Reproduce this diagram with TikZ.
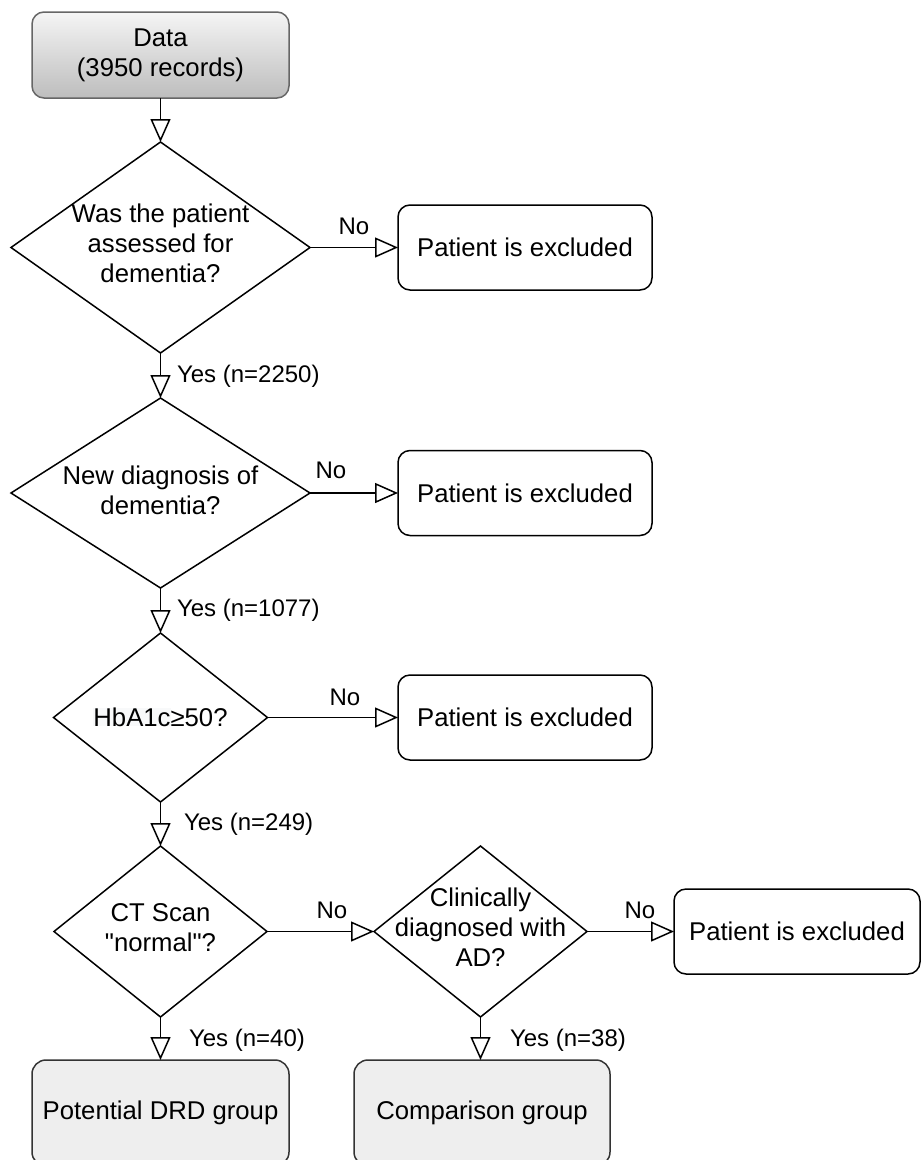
\documentclass[tikz,border=0pt]{standalone}
\usepackage{fontspec}
\setmainfont{Liberation Sans}
\newfontfamily\plainq{Liberation Sans}
\usetikzlibrary{shapes.geometric,arrows.meta}
\definecolor{gtop}{HTML}{F5F5F5}
\definecolor{gbot}{HTML}{BDBDBD}
\definecolor{gstroke}{HTML}{666666}
\definecolor{resfill}{HTML}{EEEEEE}
\definecolor{hlbg}{HTML}{F8F9FA}
\tikzset{
  every node/.style={font=\fontsize{25.7}{30}\selectfont, inner sep=0pt, outer sep=0pt},
  dia/.style={draw, line width=1.5pt, shape=diamond, inner sep=0pt},
  excl/.style={draw, line width=1.5pt, rounded corners=12pt, fill=white, minimum width=254pt, minimum height=85pt},
  result/.style={draw=black!80, line width=1.5pt, rounded corners=14pt, fill=resfill, minimum width=257pt, minimum height=106pt},
  startbox/.style={draw=gstroke, line width=1.5pt, rounded corners=12pt, top color=gtop, bottom color=gbot, minimum width=257pt, minimum height=86pt, align=center},
  dtext/.style={align=center},
  lbl/.style={anchor=center, font=\fontsize{24}{28}\selectfont},
  arr/.style={line width=1.5pt, -{Triangle[open, length=23pt, width=20pt, fill=white]}}
}
\begin{document}
\begin{tikzpicture}[x=1pt, y=-1pt]
\useasboundingbox (0,0) rectangle (921,1160);
\clip (0,0) rectangle (921,1160);
% start
\node[startbox] (data) at (160.5,55) {Data\\(3950 records)};
% diamonds
\node[dia, minimum width=299pt, minimum height=211pt] (d1) at (160.5,247.5) {};
\node[dtext] (d1t) at (160.5,243) {Was the patient\\assessed for\\dementia?};
\node[dia, minimum width=299pt, minimum height=190pt] (d2) at (160.5,493) {};
\node[dtext] (d2t) at (160.5,490) {New diagnosis of\\dementia?};
\node[dia, minimum width=214pt, minimum height=169pt] (d3) at (160.5,717.5) {};
\node[dtext] (d3t) at (160.5,717) {{\setlength{\fboxsep}{0pt}\colorbox{hlbg}{\vphantom{Hb}HbA1c}}≥50?};
\node[dia, minimum width=213pt, minimum height=171pt] (d4) at (160.5,931.5) {};
\node[dtext] (d4t) at (160.5,928) {CT Scan\\{\plainq "normal"?}};
\node[dia, minimum width=213pt, minimum height=171pt] (d5) at (480.5,931.5) {};
\node[dtext] (d5t) at (480.5,927) {Clinically\\diagnosed with\\AD?};
% exclusion boxes
\node[excl] (e1) at (525,247.5) {Patient is excluded};
\node[excl] (e2) at (525,493) {Patient is excluded};
\node[excl] (e3) at (525,717.5) {Patient is excluded};
\node[excl, minimum width=246pt] (e4) at (797,931.5) {Patient is excluded};
% results
\node[result] (r1) at (160.5,1113) {Potential DRD group};
\node[result, minimum width=256pt] (r2) at (482,1113) {Comparison group};
% connectors
\draw[arr] (data.south) -- (d1.north);
\draw[arr] (d1.east) -- (e1.west);
\draw[arr] (d1.south) -- (d2.north);
\draw[arr] (d2.east) -- (e2.west);
\draw[arr] (d2.south) -- (d3.north);
\draw[arr] (d3.east) -- (e3.west);
\draw[arr] (d3.south) -- (d4.north);
\draw[arr] (d4.east) -- (d5.west);
\draw[arr] (d5.east) -- (e4.west);
\draw[arr] (d4.south) -- (r1.north -| d4.south);
\draw[arr] (d5.south) -- (r2.north -| d5.south);
% labels
\node[lbl] (l1) at (354,226) {No};
\node[lbl, anchor=west] (l2) at (177,376) {Yes (n=2250)};
\node[lbl] (l3) at (331,470) {No};
\node[lbl, anchor=west] (l4) at (177,610) {Yes (n=1077)};
\node[lbl] (l5) at (345,697) {No};
\node[lbl, anchor=west] (l6) at (184,824) {Yes (n=249)};
\node[lbl] (l7) at (332,910) {No};
\node[lbl] (l8) at (640,910) {No};
\node[lbl, anchor=west] (l9) at (189,1040) {Yes (n=40)};
\node[lbl, anchor=west] (l10) at (510,1040) {Yes (n=38)};
\end{tikzpicture}
\end{document}
